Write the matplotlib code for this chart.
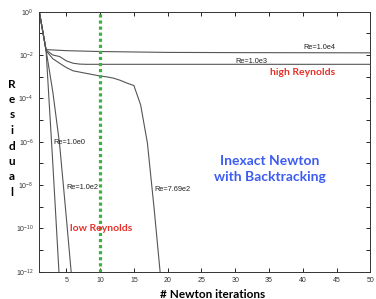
import matplotlib
matplotlib.use('Agg')
import matplotlib.pyplot as plt
import numpy as np

plt.rcParams['font.family'] = ['Liberation Sans', 'DejaVu Sans']
plt.rcParams['mathtext.fontset'] = 'custom'
plt.rcParams['mathtext.rm'] = 'Liberation Sans'
plt.rcParams['mathtext.it'] = 'Liberation Sans'

# log10 of the residual at each Newton iteration, per Reynolds number
it_re1e0 = [1, 2, 3, 4]
res_re1e0 = [0, -1.77, -7.0, -12.5]

it_re1e2 = [1, 2, 3, 4, 5, 6]
res_re1e2 = [0, -1.77, -3.7, -6.1, -9.5, -13.0]

it_re769 = list(range(1, 20))
res_re769 = [0, -1.80, -2.17, -2.38, -2.58, -2.73, -2.79, -2.85, -2.91, -2.97,
             -3.01, -3.07, -3.17, -3.30, -3.41, -4.30, -6.06, -9.1, -12.4]

it_re1e3 = [1, 2, 3, 4, 5, 6, 7, 8, 10, 20, 50]
res_re1e3 = [0, -1.77, -2.0, -2.07, -2.27, -2.38, -2.42, -2.43, -2.43, -2.43, -2.43]

it_re1e4 = [1, 2, 5, 10, 20, 30, 50]
res_re1e4 = [0, -1.75, -1.80, -1.84, -1.88, -1.89, -1.90]

xticks = [5, 10, 15, 20, 25, 30, 35, 40, 45, 50]
ytick_exp = [0, -2, -4, -6, -8, -10, -12]

fig = plt.figure(figsize=(3.76, 2.99), dpi=100)
ax = fig.add_axes([0.1045, 0.0913, 0.8805, 0.8697])

line_kw = dict(color='#555555', lw=0.8)
for its, res in [(it_re1e0, res_re1e0), (it_re1e2, res_re1e2), (it_re769, res_re769),
                 (it_re1e3, res_re1e3), (it_re1e4, res_re1e4)]:
    ax.plot(its, 10.0 ** np.array(res), **line_kw)

ax.axvline(10, color='#3db043', lw=2.3, linestyle=(0, (1, 0.9)))

ax.set_yscale('log')
ax.set_xlim(1, 50)
ax.set_ylim(1e-12, 1)
ax.set_xticks(xticks)
ax.set_xticklabels([str(t) for t in xticks])
ax.set_yticks([10.0 ** e for e in ytick_exp])
ax.set_yticklabels([r'$10^{%d}$' % e for e in ytick_exp])
ax.set_yticks([10.0 ** e for e in range(-11, 0, 2)], minor=True)
ax.yaxis.set_minor_formatter(plt.NullFormatter())
ax.tick_params(which='both', direction='in', top=True, right=True,
               labelsize=5, labelcolor='#333333', length=3, width=0.6, pad=4)
for s in ax.spines.values():
    s.set_linewidth(0.7)
    s.set_color('#333333')

small = dict(fontsize=5.3, color='#222222', ha='center', va='center')
ax.text(42.4, 10 ** -1.67, 'Re=1.0e4', **small)
ax.text(32.4, 10 ** -2.3, 'Re=1.0e3', **small)
ax.text(5.5, 10 ** -6.05, 'Re=1.0e0', **small)
ax.text(7.4, 10 ** -8.12, 'Re=1.0e2', **small)
ax.text(20.7, 10 ** -8.2, 'Re=7.69e2', **small)

red = dict(fontsize=7.5, color='#e8302a', ha='center', va='center',
           fontweight='bold', family=['Lato', 'DejaVu Sans'])
ax.text(39.9, 10 ** -2.82, 'high Reynolds', **red)
ax.text(10.2, 10 ** -10.0, 'low Reynolds', **red)

ax.text(35.1, 10 ** -7.25, 'Inexact Newton\nwith Backtracking', fontsize=10,
        color='#3d5cf2', ha='center', va='center', fontweight='bold',
        linespacing=1.35, family=['Lato', 'DejaVu Sans'])

fig.text(213 / 376, 1 - 294 / 299, '# Newton iterations', fontsize=8.5,
         fontweight='bold', ha='center', va='center', family=['Lato', 'DejaVu Sans'])

for i, ch in enumerate('Residual'):
    fig.text(12 / 376, 1 - (84 + 15.5 * i) / 299, ch, fontsize=8.5, fontweight='bold',
             ha='center', va='center', family=['Lato', 'DejaVu Sans'])

fig.savefig('out.png', dpi=100)
